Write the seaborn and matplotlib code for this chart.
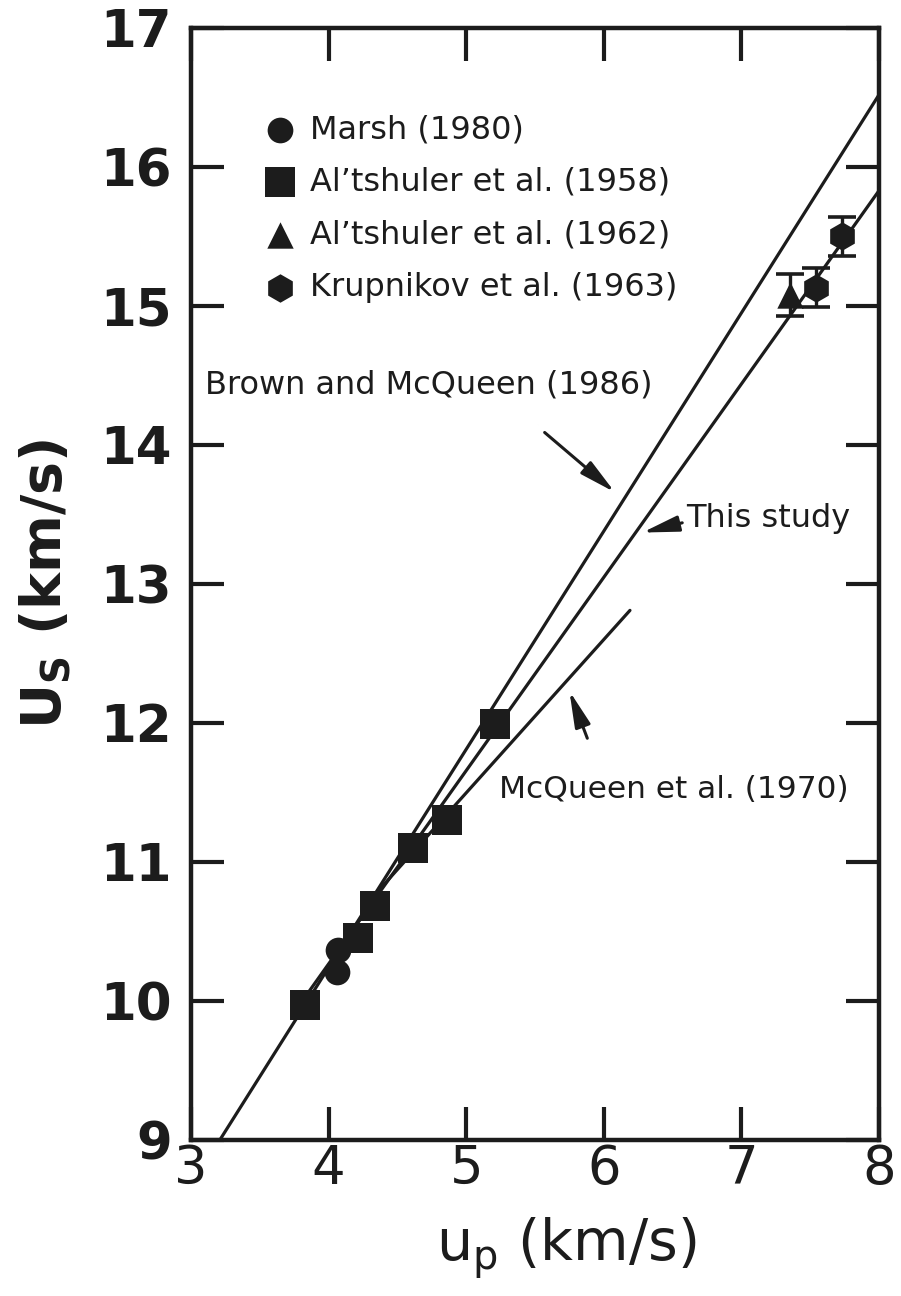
import matplotlib
matplotlib.use("Agg")
import matplotlib.pyplot as plt
import seaborn as sns
import pandas as pd

# Hugoniot fits (particle velocity up, shock velocity Us), km/s
brown_up = [3.20, 8.00]
brown_us = [8.985, 16.52]
this_up = [3.83, 8.00]
this_us = [10.03, 15.83]
mcq_up = [4.25, 6.19]
mcq_us = [10.67, 12.81]

# Experimental data
marsh_up = [4.06, 4.07]
marsh_us = [10.21, 10.37]
alt58_up = [3.83, 4.21, 4.34, 4.61, 4.86, 5.21]
alt58_us = [9.97, 10.45, 10.68, 11.10, 11.30, 11.99]
alt62_up = [7.35]
alt62_us = [15.08]
alt62_err = [0.15]
krup_up = [7.54, 7.73]
krup_us = [15.13, 15.50]
krup_err = [0.14, 0.14]

x_ticks = [3, 4, 5, 6, 7, 8]
y_ticks = [9, 10, 11, 12, 13, 14, 15, 16, 17]

sns.set_theme(style="ticks")
plt.rcParams["font.family"] = ["DejaVu Sans"]
plt.rcParams["mathtext.fontset"] = "dejavusans"

ink = "#1c1c1c"

fig = plt.figure(figsize=(9.01, 12.96), dpi=100)
ax = fig.add_axes([0.2120, 0.1204, 0.7636, 0.8580])

line_kw = dict(color=ink, linewidth=2.3, estimator=None, sort=False, legend=False)
sns.lineplot(data=pd.DataFrame({"up": brown_up, "Us": brown_us}), x="up", y="Us", ax=ax, **line_kw)
sns.lineplot(data=pd.DataFrame({"up": this_up, "Us": this_us}), x="up", y="Us", ax=ax, **line_kw)
sns.lineplot(data=pd.DataFrame({"up": mcq_up, "Us": mcq_us}), x="up", y="Us", ax=ax, **line_kw)

# error bars for the high-pressure points
for ups, uss, errs in [(alt62_up, alt62_us, alt62_err), (krup_up, krup_us, krup_err)]:
    ax.errorbar(ups, uss, yerr=errs, fmt="none", ecolor=ink, elinewidth=2.4,
                capsize=10, capthick=2.6, zorder=3)

sc_kw = dict(color=ink, edgecolor=ink, linewidth=0, zorder=4)
sns.scatterplot(x=marsh_up, y=marsh_us, marker="o", s=18.5 ** 2, ax=ax, label="Marsh (1980)", **sc_kw)
sns.scatterplot(x=alt58_up, y=alt58_us, marker="s", s=21 ** 2, ax=ax, label="Al’tshuler et al. (1958)", **sc_kw)
sns.scatterplot(x=alt62_up, y=alt62_us, marker="^", s=19 ** 2, ax=ax, label="Al’tshuler et al. (1962)", **sc_kw)
sns.scatterplot(x=krup_up, y=krup_us, marker="h", s=20.5 ** 2, ax=ax, label="Krupnikov et al. (1963)", **sc_kw)

handles, labels = ax.get_legend_handles_labels()
leg = ax.legend(handles, labels, loc="upper left", bbox_to_anchor=(0.088, 0.934),
                frameon=False, fontsize=23, handletextpad=0.42, labelspacing=0.68,
                handlelength=1.0, borderaxespad=0, markerscale=1.0)
for t in leg.get_texts():
    t.set_color(ink)

ax.set_xlim(3, 8)
ax.set_ylim(9, 17)
ax.set_xticks(x_ticks)
ax.set_yticks(y_ticks)
ax.set_xticklabels([str(v) for v in x_ticks], fontsize=38, color=ink)
ax.set_yticklabels([str(v) for v in y_ticks], fontsize=37, fontweight="bold", color=ink)
ax.tick_params(axis="both", direction="in", length=24, width=3, color=ink,
               top=True, right=True)
ax.tick_params(axis="x", pad=2)
ax.tick_params(axis="y", pad=14)
for s in ax.spines.values():
    s.set_visible(True)
    s.set_linewidth(3.2)
    s.set_color(ink)

ax.set_xlabel(r"$\mathregular{u_p}$ (km/s)", fontsize=41, color=ink)
ax.xaxis.set_label_coords(0.545, -0.068)
ax.set_ylabel(r"$\mathregular{U_S}$ (km/s)", fontsize=40, fontweight="bold", color=ink, labelpad=20)

arrow_kw = dict(arrowstyle="-|>,head_length=1.0,head_width=0.22", color=ink, lw=2.2,
                mutation_scale=22, shrinkA=0, shrinkB=0)
ax.text(3.10, 14.43, "Brown and McQueen (1986)", fontsize=23, color=ink, va="center", ha="left")
ax.annotate("", xy=(6.08, 13.66), xytext=(5.57, 14.09), arrowprops=arrow_kw)
ax.text(6.60, 13.47, "This study", fontsize=23, color=ink, va="center", ha="left")
ax.annotate("", xy=(6.28, 13.37), xytext=(6.57, 13.44), arrowprops=arrow_kw)
ax.text(5.24, 11.52, "McQueen et al. (1970)", fontsize=22.5, color=ink, va="center", ha="left")
ax.annotate("", xy=(5.75, 12.23), xytext=(5.88, 11.89), arrowprops=arrow_kw)

fig.savefig("out.png", dpi=100, facecolor="white")
